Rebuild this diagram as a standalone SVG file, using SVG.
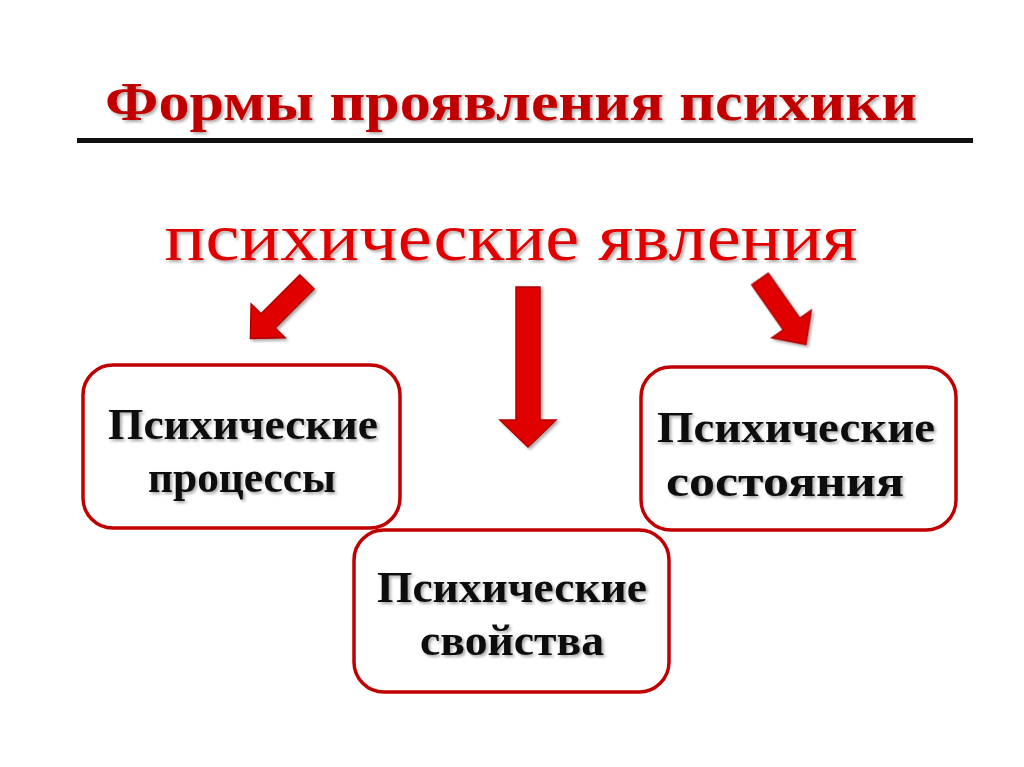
<svg xmlns="http://www.w3.org/2000/svg" width="1024" height="767" viewBox="0 0 1024 767">
<defs>
<filter id="sh" x="-10%" y="-10%" width="120%" height="130%"><feDropShadow dx="2" dy="2" stdDeviation="1.5" flood-color="#000" flood-opacity="0.35"/></filter>
<path id="arr" d="M-10,0 L10,0 L10,55 L24,55 L0,80 L-24,55 L-10,55 Z"/>
</defs>
<style>
.box{fill:#fff;stroke:#c00000;stroke-width:3.5}
.bt{font-family:"Liberation Serif",serif;font-weight:bold;font-size:44px;fill:#111;text-anchor:middle}
.ar{fill:#e00000;stroke:#b00000;stroke-width:1.5}
</style>
<rect width="1024" height="767" fill="#fff"/>
<text x="511" y="120" font-family="Liberation Serif,serif" font-weight="bold" font-size="54" fill="#c00000" text-anchor="middle" textLength="812" lengthAdjust="spacingAndGlyphs" filter="url(#sh)">Формы проявления психики</text>
<rect x="77" y="138" width="896" height="5" fill="#111"/>
<text x="511" y="260" font-family="Liberation Serif,serif" font-size="68" fill="#e00000" text-anchor="middle" textLength="693" lengthAdjust="spacingAndGlyphs" filter="url(#sh)">психические явления</text>
<g id="connectors" filter="url(#sh)">
<use href="#arr" class="ar" transform="translate(307,282) rotate(45)"/>
<path class="ar" d="M516,287 L540,287 L540,420 L556,420 L528,447 L500,420 L516,420 Z"/>
<use href="#arr" class="ar" transform="translate(760,279) rotate(-35)"/>
</g>
<g id="n1"><rect class="box" x="83" y="365" width="317" height="163" rx="30"/>
<text class="bt" x="243" y="439" textLength="270" lengthAdjust="spacingAndGlyphs" filter="url(#sh)">Психические</text>
<text class="bt" x="242" y="492" textLength="188" lengthAdjust="spacingAndGlyphs" filter="url(#sh)">процессы</text></g>
<g id="n2"><rect class="box" x="641" y="367" width="315" height="163" rx="30"/>
<text class="bt" x="796" y="442" textLength="278" lengthAdjust="spacingAndGlyphs" filter="url(#sh)">Психические</text>
<text class="bt" x="785" y="496" textLength="238" lengthAdjust="spacingAndGlyphs" filter="url(#sh)">состояния</text></g>
<g id="n3"><rect class="box" x="354" y="530" width="315" height="162" rx="30"/>
<text class="bt" x="512" y="602" textLength="270" lengthAdjust="spacingAndGlyphs" filter="url(#sh)">Психические</text>
<text class="bt" x="512" y="655" textLength="184" lengthAdjust="spacingAndGlyphs" filter="url(#sh)">свойства</text></g>
</svg>
